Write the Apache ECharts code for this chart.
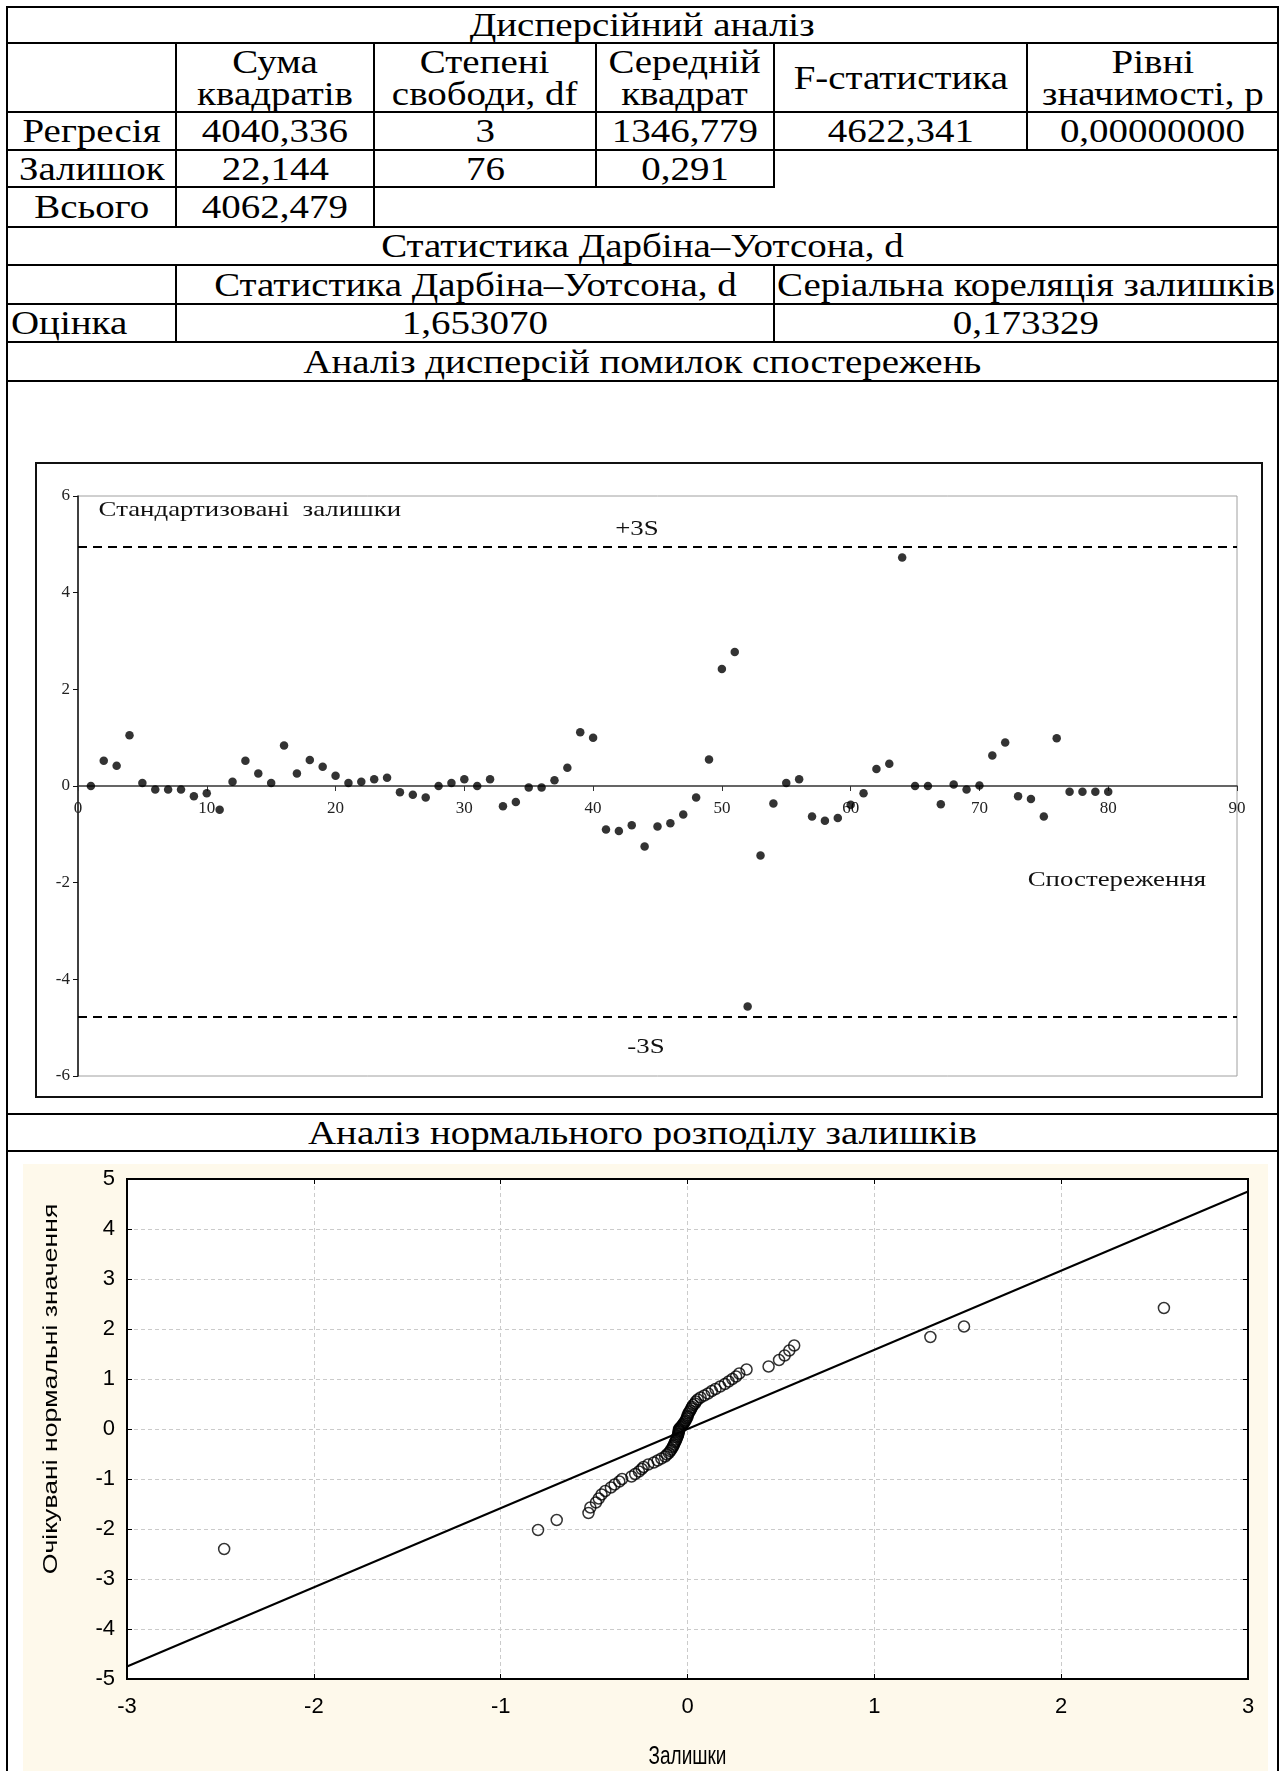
<!DOCTYPE html>
<html>
<head>
<meta charset="utf-8">
<title>Регресійний аналіз</title>
<script src="https://cdn.jsdelivr.net/npm/echarts@6/dist/echarts.min.js"></script>
<style>
  body { margin: 0; background: #fff; }
  #page { position: relative; width: 1279px; height: 1771px; overflow: hidden; }
  #tbl {
    position: absolute; left: 6px; top: 6px;
    border-collapse: collapse; table-layout: fixed;
    font-family: "Liberation Serif", "Times New Roman", serif;
    font-size: 33px; color: #000;
  }
  #tbl td {
    border: 2px solid #000; padding: 0; text-align: center; vertical-align: middle;
    line-height: 32px; white-space: nowrap; overflow: visible;
  }
  #tbl td span { display: inline-block; transform: scaleX(1.18); }
  #tbl td.left { text-align: left; padding-left: 3px; }
  #tbl td.left span { transform-origin: left center; }
  #resid { position: absolute; left: 35px; top: 462px; width: 1224px; height: 632px; border: 2px solid #111; }
  #qq { position: absolute; left: 23px; top: 1164px; width: 1245px; height: 607px; }
</style>
</head>
<body>
<div id="page">
  <table id="tbl"></table>
  <div id="resid"></div>
  <div id="qq"></div>
</div>
<script>
// таблиця дисперсійного аналізу
var anovaTitle = "Дисперсійний аналіз";
var anovaHead = ["", "Сума<br>квадратів", "Степені<br>свободи, df", "Середній<br>квадрат", "F-статистика", "Рівні<br>значимості, p"];
var rowNames = ["Регресія", "Залишок", "Всього"];
var sumSquares = ["4040,336", "22,144", "4062,479"];
var degFree = ["3", "76"];
var meanSquare = ["1346,779", "0,291"];
var fStat = "4622,341";
var pLevel = "0,00000000";
var dwTitle = "Статистика Дарбіна–Уотсона, d";
var dwHead = ["Статистика Дарбіна–Уотсона, d", "Серіальна кореляція залишків"];
var dwRow = ["Оцінка", "1,653070", "0,173329"];
var residTitle = "Аналіз дисперсій помилок спостережень";
var normTitle = "Аналіз нормального розподілу залишків";

// стандартизовані залишки, спостереження 1..80
var stdResid = [
  0.00, 0.52, 0.42, 1.05, 0.06, -0.07, -0.07, -0.07, -0.21, -0.15,
  -0.49, 0.09, 0.52, 0.26, 0.06, 0.84, 0.26, 0.54, 0.40, 0.21,
  0.06, 0.09, 0.14, 0.17, -0.13, -0.18, -0.24, 0.00, 0.06, 0.14,
  0.00, 0.14, -0.42, -0.33, -0.03, -0.03, 0.12, 0.38, 1.11, 1.00,
  -0.90, -0.93, -0.81, -1.25, -0.84, -0.77, -0.59, -0.24, 0.55, 2.42,
  2.77, -4.56, -1.44, -0.36, 0.06, 0.14, -0.63, -0.72, -0.66, -0.39,
  -0.15, 0.35, 0.46, 4.73, 0.00, 0.00, -0.38, 0.03, -0.07, 0.01,
  0.63, 0.90, -0.21, -0.27, -0.63, 0.99, -0.12, -0.12, -0.12, -0.12
];
var sigmaLimits = [4.95, -4.78];
var residTicksX = [0, 90, 10];
var residTicksY = [-6, 6, 2];

// нормальний ймовірнісний графік
var qqResid = [
  -2.48, -0.80, -0.70, -0.53, -0.52, -0.49, -0.475, -0.46, -0.44, -0.41,
  -0.39, -0.365, -0.35, -0.30, -0.28, -0.26, -0.245, -0.235, -0.21, -0.18,
  -0.16, -0.14, -0.12, -0.11, -0.10, -0.092, -0.087, -0.08, -0.076, -0.072,
  -0.068, -0.063, -0.06, -0.056, -0.052, -0.05, -0.049, -0.047, -0.046, -0.045,
  -0.045, -0.04, -0.035, -0.03, -0.025, -0.02, -0.015, -0.01, -0.005, 0.0,
  0.0, 0.005, 0.01, 0.015, 0.02, 0.025, 0.03, 0.04, 0.045, 0.055,
  0.07, 0.09, 0.11, 0.13, 0.15, 0.175, 0.20, 0.22, 0.24, 0.26,
  0.277, 0.316, 0.434, 0.49, 0.52, 0.545, 0.571, 1.30, 1.48, 2.55
];
var qqExpected = [
  -2.40, -2.02, -1.82, -1.68, -1.57, -1.47, -1.39, -1.31, -1.24, -1.17,
  -1.11, -1.05, -1.00, -0.95, -0.90, -0.85, -0.80, -0.76, -0.71, -0.67,
  -0.63, -0.59, -0.55, -0.51, -0.48, -0.44, -0.41, -0.37, -0.34, -0.31,
  -0.27, -0.24, -0.21, -0.17, -0.14, -0.11, -0.09, -0.06, -0.04, -0.02,
  0.00, 0.02, 0.04, 0.06, 0.09, 0.11, 0.14, 0.17, 0.21, 0.24,
  0.27, 0.31, 0.34, 0.37, 0.41, 0.44, 0.48, 0.51, 0.55, 0.59,
  0.63, 0.67, 0.71, 0.76, 0.80, 0.85, 0.90, 0.95, 1.00, 1.05,
  1.11, 1.19, 1.25, 1.38, 1.47, 1.57, 1.67, 1.84, 2.05, 2.42
];
var refLineX = [-3, 3];
var refLineY = [-4.75, 4.75];

// ---- таблиця ----
var colW = [169, 198, 222, 178, 253, 251];
var rowH = [36, 69, 38, 37, 40, 38, 39, 38, 39, 733, 37, 621];

function cell(txt, opts) {
  opts = opts || {};
  var a = '<td';
  if (opts.span) a += ' colspan="' + opts.span + '"';
  if (opts.cls) a += ' class="' + opts.cls + '"';
  if (opts.style) a += ' style="' + opts.style + '"';
  return a + '>' + (txt ? '<span>' + txt + '</span>' : '') + '</td>';
}

var html = '<colgroup>' + colW.map(function (w) { return '<col style="width:' + w + 'px">'; }).join('') + '</colgroup>';
var rows = [];
rows.push(cell(anovaTitle, { span: 6 }));
rows.push(anovaHead.map(function (h) { return cell(h); }).join(''));
rows.push(cell(rowNames[0]) + cell(sumSquares[0]) + cell(degFree[0]) + cell(meanSquare[0]) + cell(fStat) + cell(pLevel));
rows.push(cell(rowNames[1]) + cell(sumSquares[1]) + cell(degFree[1]) + cell(meanSquare[1]) +
  cell('', { span: 2, style: 'border-bottom-style:hidden' }));
rows.push(cell(rowNames[2]) + cell(sumSquares[2]) +
  cell('', { span: 2, style: 'border-right-style:hidden' }) +
  cell('', { span: 2, style: 'border-top-style:hidden;border-left-style:hidden' }));
rows.push(cell(dwTitle, { span: 6 }));
rows.push(cell('') + cell(dwHead[0], { span: 3 }) + cell(dwHead[1], { span: 2 }));
rows.push(cell(dwRow[0], { cls: 'left' }) + cell(dwRow[1], { span: 3 }) + cell(dwRow[2], { span: 2 }));
rows.push(cell(residTitle, { span: 6 }));
rows.push(cell('', { span: 6 }));
rows.push(cell(normTitle, { span: 6 }));
rows.push(cell('', { span: 6 }));
html += rows.map(function (r, i) { return '<tr style="height:' + rowH[i] + 'px">' + r + '</tr>'; }).join('');
document.getElementById('tbl').innerHTML = html;

// ---- графік залишків ----
var serif = '"Liberation Serif", "Times New Roman", serif';
var residChart = echarts.init(document.getElementById('resid'));
residChart.setOption({
  animation: false,
  grid: {
    left: 41, right: 24, top: 32, bottom: 20, outerBoundsMode: 'none',
    show: true, borderColor: '#a0a0a0', borderWidth: 1
  },
  xAxis: {
    type: 'value', min: residTicksX[0], max: residTicksX[1], interval: residTicksX[2],
    axisLine: { onZero: false, lineStyle: { color: '#333', width: 1.5 } },
    axisTick: { length: 5, lineStyle: { color: '#333' } },
    axisLabel: { fontFamily: serif, fontSize: 17, color: '#222', margin: 14 },
    splitLine: { show: false }
  },
  yAxis: {
    type: 'value', min: residTicksY[0], max: residTicksY[1], interval: residTicksY[2],
    axisLine: { show: true, lineStyle: { color: '#111', width: 1.5 } },
    axisTick: { show: true, length: 5, lineStyle: { color: '#111' } },
    axisLabel: { fontFamily: serif, fontSize: 17, color: '#222', margin: 8 },
    splitLine: { show: false }
  },
  series: [{
    type: 'scatter',
    symbolSize: 8.5,
    itemStyle: { color: '#000' },
    data: stdResid.map(function (v, i) { return [i + 1, v]; }),
    markLine: {
      silent: true, symbol: 'none', label: { show: false },
      lineStyle: { color: '#000', width: 2, type: [9, 6] },
      data: sigmaLimits.map(function (v) { return { yAxis: v }; })
    }
  }]
});

// вісь X проходить через нуль
var yZero = residChart.convertToPixel({ yAxisIndex: 0 }, 0);
var yBottom = residChart.convertToPixel({ yAxisIndex: 0 }, residTicksY[0]);
residChart.setOption({ xAxis: { offset: -(yBottom - yZero) } });

function note(chart, txt, x, y, align, size, sx) {
  var p = chart.convertToPixel({ gridIndex: 0 }, [x, y]);
  return {
    type: 'text', x: p[0], y: p[1], scaleX: sx,
    style: { text: txt, font: size + 'px ' + serif, fill: '#111', align: align, verticalAlign: 'middle' }
  };
}
residChart.setOption({
  graphic: [
    note(residChart, 'Стандартизовані  залишки', 1.6, 5.7, 'left', 22, 1.22),
    note(residChart, '+3S', 43.4, 5.32, 'center', 22, 1.22),
    note(residChart, '-3S', 44.1, -5.4, 'center', 22, 1.22),
    note(residChart, 'Спостереження', 87.6, -1.94, 'right', 22, 1.22)
  ]
});

// ---- нормальний ймовірнісний графік ----
var sans = '"Liberation Sans", Arial, sans-serif';
var qqChart = echarts.init(document.getElementById('qq'));
var frameLine = { onZero: false, lineStyle: { color: '#000', width: 2 } };
var frameTick = { inside: true, length: 5, lineStyle: { color: '#000' } };
var gridDash = { show: true, lineStyle: { type: [4, 3], color: '#cbcbcb', width: 1 } };
qqChart.setOption({
  animation: false,
  backgroundColor: '#fef9eb',
  grid: {
    left: 104, right: 20, top: 15, bottom: 92, outerBoundsMode: 'none',
    show: true, backgroundColor: '#fff', borderColor: '#000', borderWidth: 2
  },
  xAxis: [{
    type: 'value', min: -3, max: 3, interval: 1, position: 'bottom',
    axisLine: frameLine, axisTick: frameTick,
    axisLabel: { fontFamily: sans, fontSize: 22, color: '#000', margin: 17 },
    splitLine: gridDash
  }, {
    type: 'value', min: -3, max: 3, interval: 1, position: 'top',
    axisLine: frameLine, axisTick: frameTick,
    axisLabel: { show: false }, splitLine: { show: false }
  }],
  yAxis: [{
    type: 'value', min: -5, max: 5, interval: 1, position: 'left',
    axisLine: frameLine, axisTick: frameTick,
    axisLabel: { fontFamily: sans, fontSize: 22, color: '#000', margin: 12 },
    splitLine: gridDash
  }, {
    type: 'value', min: -5, max: 5, interval: 1, position: 'right',
    axisLine: frameLine, axisTick: frameTick,
    axisLabel: { show: false }, splitLine: { show: false }
  }],
  series: [{
    type: 'line', symbol: 'none', silent: true,
    lineStyle: { color: '#000', width: 2 },
    data: refLineX.map(function (x, i) { return [x, refLineY[i]]; })
  }, {
    type: 'scatter', symbolSize: 11,
    itemStyle: { color: 'rgba(255,255,255,0)', borderColor: '#000', borderWidth: 1.5 },
    data: qqResid.map(function (x, i) { return [x, qqExpected[i]]; })
  }]
});

// назви осей (витягнутий по вертикалі шрифт, як в оригіналі)
var pMid = qqChart.convertToPixel({ gridIndex: 0 }, [0, 0]);
var pLow = qqChart.convertToPixel({ gridIndex: 0 }, [-3, -5]);
qqChart.setOption({
  graphic: [{
    type: 'text', x: pMid[0], y: pLow[1] + 78, scaleY: 1.35,
    style: { text: 'Залишки', font: '19px ' + sans, fill: '#000', align: 'center', verticalAlign: 'middle' }
  }, {
    type: 'text', x: pLow[0] - 76, y: pMid[1] - 40, rotation: Math.PI / 2, scaleX: 1.4, scaleY: 1.1,
    style: { text: 'Очікувані нормальні значення', font: '19px ' + sans, fill: '#000', align: 'center', verticalAlign: 'middle' }
  }]
});
</script>
</body>
</html>
